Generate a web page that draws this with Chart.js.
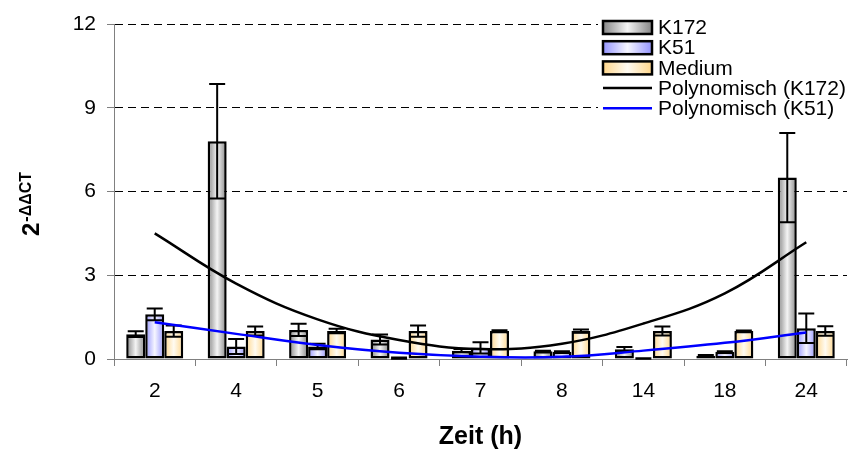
<!DOCTYPE html>
<html>
<head>
<meta charset="utf-8">
<script src="https://cdn.jsdelivr.net/npm/chart.js@4.4.1/dist/chart.umd.min.js"></script>
<style>
  html, body { margin: 0; padding: 0; background: #fff; }
  #wrap { width: 851px; height: 452px; position: relative; }
</style>
</head>
<body>
<div id="wrap"><canvas id="chartCanvas"></canvas></div>
<script>
// Werte
const categories = ['2', '4', '5', '6', '7', '8', '14', '18', '24'];
const k172 = [0.89, 7.8, 1.04, 0.7, 0.3, 0.28, 0.35, 0.12, 6.5];
const k172Err = [0.1, 2.05, 0.22, 0.18, 0.06, 0.02, 0.08, 0.02, 1.6];
const k51 = [1.6, 0.45, 0.45, 0.03, 0.4, 0.26, 0.02, 0.26, 1.1];
const k51Err = [0.21, 0.27, 0.1, 0.02, 0.2, 0.02, 0.01, 0.02, 0.53];
const medium = [1.0, 1.0, 1.0, 1.0, 1.0, 1.0, 1.0, 1.0, 1.0];
const mediumErr = [0.2, 0.16, 0.08, 0.2, 0.03, 0.06, 0.16, 0.02, 0.17];
const trendK172 = [4.5, 2.7, 1.42, 0.68, 0.36, 0.55, 1.27, 2.35, 4.18];
const trendK51 = [1.32, 0.9, 0.5, 0.22, 0.08, 0.08, 0.3, 0.58, 0.95];
const yTicks = [0, 3, 6, 9, 12];

const FONT = "'Liberation Sans', Arial, sans-serif";

// Randfarbe / Mittelfarbe für den Verlauf
const gradColors = [
    ['#858585', '#f4f4f4'],
    ['#9494ff', '#f6f6ff'],
    ['#ffd68a', '#fffbf2']
];

function makeGradient(ctx, x0, x1, cols) {
    const g = ctx.createLinearGradient(x0, 0, x1, 0);
    g.addColorStop(0, cols[0]);
    g.addColorStop(0.5, cols[1]);
    g.addColorStop(1, cols[0]);
    return g;
}

// Verlauf je Balken setzen
const gradientPlugin = {
    id: 'barGradient',
    beforeDatasetDraw(chart, args) {
        const meta = args.meta;
        if (meta.type !== 'bar') return;
        const cols = gradColors[args.index];
        meta.data.forEach(el => {
            el.options.backgroundColor = makeGradient(chart.ctx, el.x - el.width / 2, el.x + el.width / 2, cols);
        });
    }
};

// Fehlerbalken
const errorPlugin = {
    id: 'errorBars',
    afterDatasetDraw(chart, args) {
        const meta = args.meta;
        if (meta.type !== 'bar') return;
        const ds = chart.data.datasets[args.index];
        const y = chart.scales.y;
        const ctx = chart.ctx;
        ctx.save();
        ctx.strokeStyle = '#000';
        ctx.lineWidth = 2;
        meta.data.forEach((el, i) => {
            const v = ds.data[i], e = ds.errors[i];
            const yt = y.getPixelForValue(v + e);
            const yb = y.getPixelForValue(Math.max(0, v - e));
            const half = 8;
            ctx.beginPath();
            ctx.moveTo(el.x, yt); ctx.lineTo(el.x, yb);
            ctx.moveTo(el.x - half, yt); ctx.lineTo(el.x + half, yt);
            ctx.moveTo(el.x - half, yb); ctx.lineTo(el.x + half, yb);
            ctx.stroke();
        });
        ctx.restore();
    }
};

// weisser Hintergrund der Legende (verdeckt Gitterlinien)
const legendBgPlugin = {
    id: 'legendBg',
    beforeDatasetsDraw(chart) {
        const ctx = chart.ctx;
        ctx.save();
        ctx.fillStyle = '#fff';
        ctx.fillRect(598, 14, 253, 106);
        ctx.restore();
    }
};

// Legende und y-Titel
const decorPlugin = {
    id: 'decor',
    afterDraw(chart) {
        const ctx = chart.ctx;
        ctx.save();
        chart.data.datasets.forEach((ds, i) => {
            const cy = 27.5 + i * 20.2;
            if (ds.type === 'bar') {
                ctx.fillStyle = makeGradient(ctx, 603, 652, gradColors[i]);
                ctx.fillRect(603, cy - 6.5, 49, 13);
                ctx.strokeStyle = '#000';
                ctx.lineWidth = 2.5;
                ctx.strokeRect(603, cy - 6.5, 49, 13);
            } else {
                ctx.strokeStyle = ds.borderColor;
                ctx.lineWidth = 2.5;
                ctx.beginPath();
                ctx.moveTo(603, cy); ctx.lineTo(652, cy);
                ctx.stroke();
            }
            ctx.fillStyle = '#000';
            ctx.font = '21px ' + FONT;
            ctx.textBaseline = 'middle';
            ctx.textAlign = 'left';
            ctx.fillText(ds.label, 658, cy + 1);
        });

        // 2^-ΔΔCT
        ctx.translate(39, 236);
        ctx.rotate(-Math.PI / 2);
        ctx.textBaseline = 'alphabetic';
        ctx.font = 'bold 24px ' + FONT;
        ctx.fillText('2', 0, 0);
        const w = ctx.measureText('2').width;
        ctx.font = 'bold 16px ' + FONT;
        ctx.fillText('-ΔΔCT', w + 1, -8);
        ctx.restore();
    }
};

const ctx = document.getElementById('chartCanvas').getContext('2d');

new Chart(ctx, {
    data: {
        labels: categories,
        datasets: [
            { type: 'bar', label: 'K172', data: k172, errors: k172Err, order: 1 },
            { type: 'bar', label: 'K51', data: k51, errors: k51Err, order: 1 },
            { type: 'bar', label: 'Medium', data: medium, errors: mediumErr, order: 1 },
            { type: 'line', label: 'Polynomisch (K172)', data: trendK172, borderColor: '#000000', order: 0 },
            { type: 'line', label: 'Polynomisch (K51)', data: trendK51, borderColor: '#0000ff', order: 0 }
        ]
    },
    options: {
        responsive: true,
        maintainAspectRatio: false,
        animation: false,
        devicePixelRatio: 1,
        layout: { padding: { top: 24, right: 4, bottom: 0, left: 0 } },
        datasets: {
            bar: {
                backgroundColor: () => '#cccccc',
                borderColor: '#000',
                borderWidth: 2.5,
                borderSkipped: false,
                categoryPercentage: 0.7,
                barPercentage: 1.0
            },
            line: {
                borderWidth: 2.5,
                pointRadius: 0,
                tension: 0.4,
                fill: false
            }
        },
        plugins: {
            legend: { display: false },
            tooltip: { enabled: false }
        },
        scales: {
            x: {
                afterFit: s => { s.height = 93; },
                grid: {
                    drawOnChartArea: false,
                    drawTicks: true,
                    tickLength: 7,
                    tickColor: '#808080',
                    offset: true
                },
                border: { color: '#808080', width: 1 },
                ticks: { color: '#000', font: { family: FONT, size: 21 }, padding: 13, maxRotation: 0 },
                title: {
                    display: true,
                    text: 'Zeit (h)',
                    color: '#000',
                    font: { family: FONT, size: 25, weight: 'bold', lineHeight: 1.2 },
                    padding: { top: 0, bottom: 0 }
                }
            },
            y: {
                min: 0,
                max: 12,
                afterFit: s => { s.width = 114; },
                afterBuildTicks: s => { s.ticks = yTicks.map(v => ({ value: v })); },
                grid: {
                    color: c => (c.tick && c.tick.value === 0) ? 'rgba(0,0,0,0)' : '#000',
                    lineWidth: 1,
                    drawTicks: true,
                    tickLength: 7,
                    tickColor: '#808080',
                    tickBorderDash: []
                },
                border: { color: '#808080', width: 1, dash: [8, 5] },
                ticks: { color: '#000', font: { family: FONT, size: 21 }, padding: 11 }
            }
        }
    },
    plugins: [gradientPlugin, legendBgPlugin, errorPlugin, decorPlugin]
});
</script>
</body>
</html>
